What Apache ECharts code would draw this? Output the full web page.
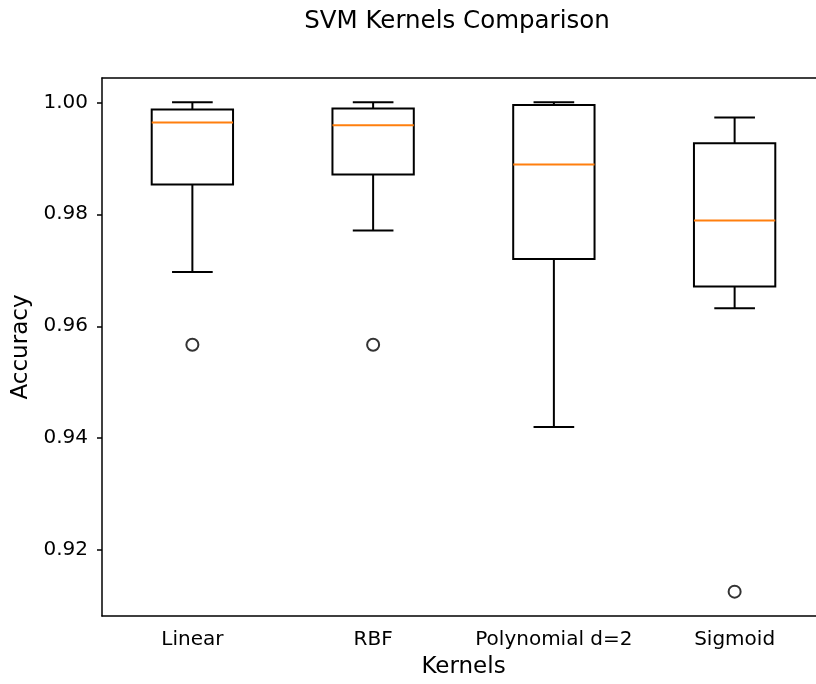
<!DOCTYPE html>
<html>
<head>
<meta charset="utf-8">
<script src="https://cdn.jsdelivr.net/npm/echarts@6/dist/echarts.min.js"></script>
<style>
  html, body { margin: 0; padding: 0; background: #fff; }
  #chart { width: 816px; height: 684px; }
</style>
</head>
<body>
<div id="chart"></div>
<script>
// kernels and the box statistics
var kernels = ['Linear', 'RBF', 'Polynomial d=2', 'Sigmoid'];
var whiskerLow = [0.9697, 0.9771, 0.9420, 0.9632];
var q1 = [0.9853, 0.9871, 0.9720, 0.9671];
var median = [0.9964, 0.9959, 0.9889, 0.9789];
var q3 = [0.9987, 0.9989, 0.9995, 0.9927];
var whiskerHigh = [1.0000, 1.0000, 1.0000, 0.9973];
var outlierKernel = [0, 1, 3];
var outlierValue = [0.9567, 0.9567, 0.9126];
var yTicks = [0.92, 0.94, 0.96, 0.98, 1.00];

var font = 'DejaVu Sans';

var boxData = [];
for (var i = 0; i < kernels.length; i++) {
    boxData.push([i, whiskerLow[i], q1[i], median[i], q3[i], whiskerHigh[i]]);
}
var outlierData = [];
for (var j = 0; j < outlierKernel.length; j++) {
    outlierData.push([outlierKernel[j], outlierValue[j]]);
}

function renderBox(params, api) {
    var idx = api.value(0);
    var lo = api.coord([idx, api.value(1)]);
    var b1 = api.coord([idx, api.value(2)]);
    var md = api.coord([idx, api.value(3)]);
    var b3 = api.coord([idx, api.value(4)]);
    var hi = api.coord([idx, api.value(5)]);
    var band = api.size([1, 0])[0];
    var half = band * 0.45 / 2;
    var cap = half / 2;
    var cx = lo[0];
    var stroke = { stroke: '#000', lineWidth: 2, fill: null };
    return {
        type: 'group',
        children: [
            { type: 'line', shape: { x1: cx, y1: b1[1], x2: cx, y2: lo[1] }, style: stroke },
            { type: 'line', shape: { x1: cx - cap, y1: lo[1], x2: cx + cap, y2: lo[1] }, style: stroke },
            { type: 'line', shape: { x1: cx, y1: b3[1], x2: cx, y2: hi[1] }, style: stroke },
            { type: 'line', shape: { x1: cx - cap, y1: hi[1], x2: cx + cap, y2: hi[1] }, style: stroke },
            { type: 'rect', shape: { x: cx - half, y: b3[1], width: half * 2, height: b1[1] - b3[1] }, style: stroke },
            { type: 'line', shape: { x1: cx - half, y1: md[1], x2: cx + half, y2: md[1] },
              style: { stroke: '#ff7f0e', lineWidth: 2 } }
        ]
    };
}

var chart = echarts.init(document.getElementById('chart'));
chart.setOption({
    animation: false,
    backgroundColor: '#fff',
    title: {
        text: 'SVM Kernels Comparison',
        left: 452,
        top: 4,
        textAlign: 'center',
        textStyle: { fontFamily: font, fontSize: 24.5, fontWeight: 'normal', color: '#000' }
    },
    grid: {
        left: 102, top: 78, width: 723, height: 538,
        outerBoundsMode: 'none',
        containLabel: false,
        show: false
    },
    xAxis: [
        {
            type: 'category',
            data: kernels,
            boundaryGap: true,
            name: 'Kernels',
            nameLocation: 'middle',
            nameGap: 40,
            nameTextStyle: { fontFamily: font, fontSize: 23, color: '#000' },
            axisLine: { lineStyle: { color: '#000', width: 1.5 } },
            axisTick: { alignWithLabel: true, length: 5, lineStyle: { color: '#000', width: 1.5 } },
            axisLabel: { interval: 0, margin: 14, fontFamily: font, fontSize: 20, color: '#000' },
            splitLine: { show: false }
        },
        {
            // top spine only
            type: 'category',
            data: kernels,
            position: 'top',
            axisLine: { lineStyle: { color: '#000', width: 1.5 } },
            axisTick: { show: false },
            axisLabel: { show: false },
            splitLine: { show: false }
        }
    ],
    yAxis: {
        type: 'value',
        min: 0.90825,
        max: 1.00434,
        name: 'Accuracy',
        nameLocation: 'middle',
        nameGap: 66,
        nameTextStyle: { fontFamily: font, fontSize: 23, color: '#000' },
        axisLine: { show: true, lineStyle: { color: '#000', width: 1.5 } },
        axisTick: { show: true, length: 5, customValues: yTicks, lineStyle: { color: '#000', width: 1.5 } },
        axisLabel: {
            margin: 14, fontFamily: font, fontSize: 20, color: '#000',
            customValues: yTicks,
            formatter: function (v) { return v.toFixed(2); }
        },
        splitLine: { show: false }
    },
    series: [
        {
            type: 'custom',
            data: boxData,
            encode: { x: 0, y: [1, 2, 3, 4, 5] },
            renderItem: renderBox,
            z: 3
        },
        {
            type: 'scatter',
            data: outlierData,
            symbol: 'circle',
            symbolSize: 12,
            itemStyle: { color: 'transparent', borderColor: '#000', borderWidth: 2 },
            z: 4
        }
    ]
});
</script>
</body>
</html>
